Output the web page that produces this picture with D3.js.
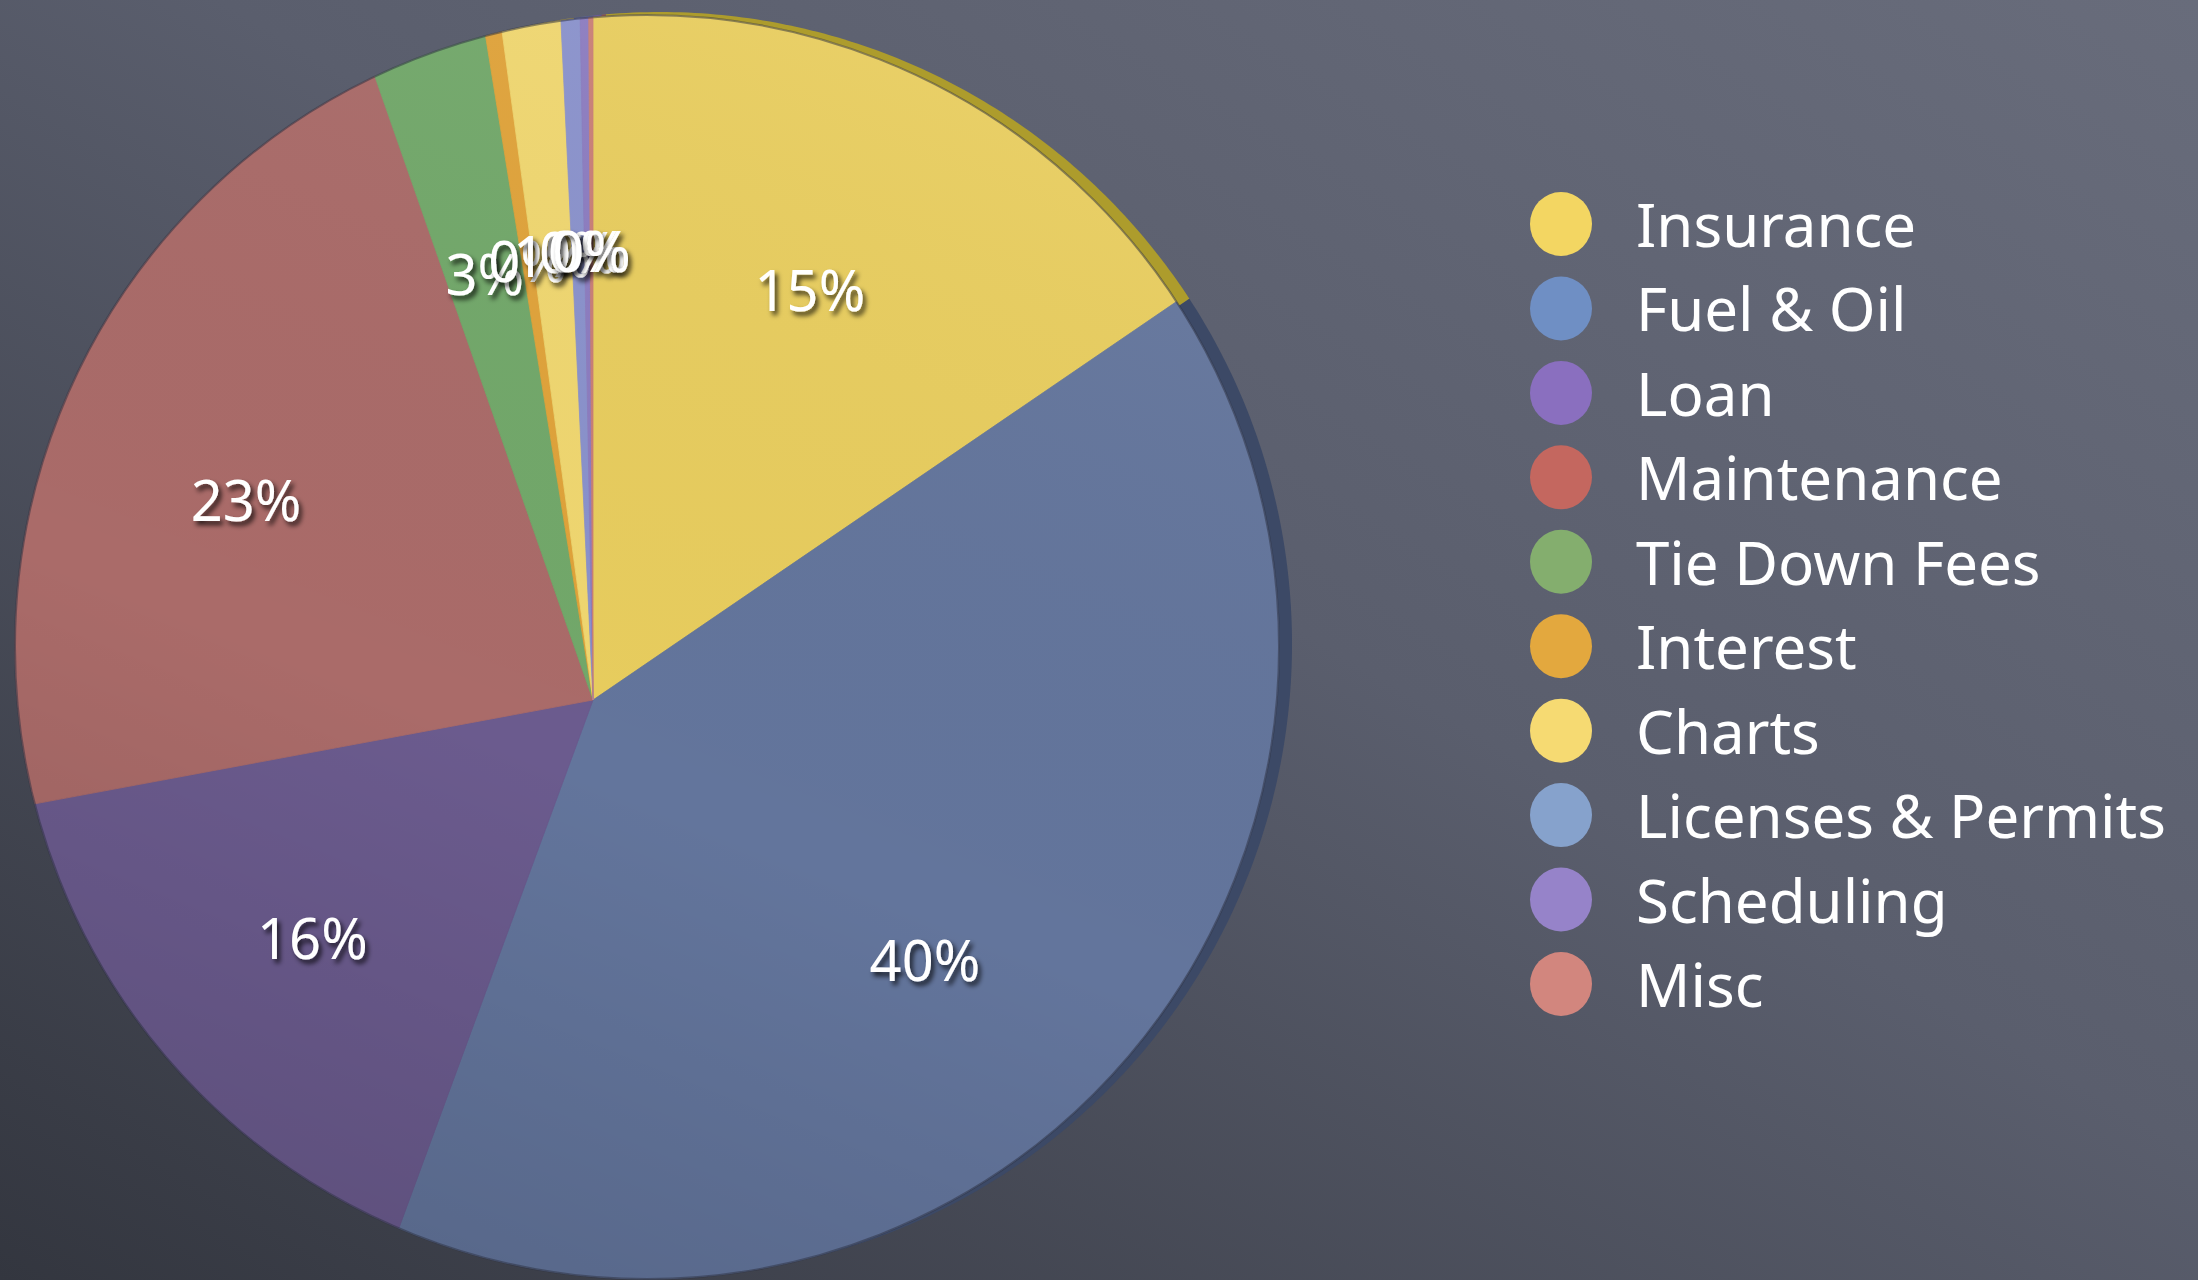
<!DOCTYPE html>
<html>
<head>
<meta charset="utf-8">
<script src="https://cdn.jsdelivr.net/npm/d3@7"></script>
<style>
  body { margin: 0; background: #4a4e5c; }
  svg { display: block; }
</style>
</head>
<body>
<div id="chart"></div>
<script>
// Datos del gráfico
const categories = ["Insurance", "Fuel & Oil", "Loan", "Maintenance", "Tie Down Fees",
                    "Interest", "Charts", "Licenses & Permits", "Scheduling", "Misc"];
const values = [15.45, 40.1, 16.45, 22.55, 2.8, 0.4, 1.4, 0.45, 0.2, 0.1];

// Colores (cara, lateral y leyenda)
const faceColors = ["#e8cd5e", "#63759c", "#6b5b8e", "#aa6b69", "#72a86a",
                    "#e0a33a", "#f0d770", "#8a92cc", "#8c7cc0", "#c97f76"];
const sideColors = ["#ad9c2c", "#3c4966", "#4a3e66", "#7a4644", "#4f7a48",
                    "#a87a28", "#b8a450", "#5c6494", "#6a5a98", "#955a52"];
const legendColors = ["#f3d662", "#6f8fc4", "#8a6fbf", "#c4675f", "#84ae6e",
                      "#e3a83e", "#f6da72", "#86a2cc", "#9683c9", "#d2867e"];

const WIDTH = 2198;
const HEIGHT = 1280;

// Geometría del pastel en perspectiva
const apex = { x: 593, y: 700 };     // punto donde se juntan las porciones
const rim = { x: 647, y: 647, r: 632 };
const labelFrac = 0.66;

const svg = d3.select("#chart")
  .append("svg")
  .attr("width", WIDTH)
  .attr("height", HEIGHT);

const defs = svg.append("defs");

// Fondo de pizarra
const bg = defs.append("linearGradient")
  .attr("id", "bg")
  .attr("x1", "1").attr("y1", "0")
  .attr("x2", "0").attr("y2", "1");
bg.append("stop").attr("offset", "0%").attr("stop-color", "#686c7b");
bg.append("stop").attr("offset", "45%").attr("stop-color", "#5a5e6d");
bg.append("stop").attr("offset", "100%").attr("stop-color", "#33363f");

// Sombreado sobre la cara del pastel
const shade = defs.append("linearGradient")
  .attr("id", "shade")
  .attr("x1", "0.7").attr("y1", "0")
  .attr("x2", "0.3").attr("y2", "1");
shade.append("stop").attr("offset", "0%").attr("stop-color", "#ffffff").attr("stop-opacity", 0.06);
shade.append("stop").attr("offset", "60%").attr("stop-color", "#000000").attr("stop-opacity", 0.0);
shade.append("stop").attr("offset", "100%").attr("stop-color", "#000000").attr("stop-opacity", 0.12);

const shadow = defs.append("filter")
  .attr("id", "txtshadow")
  .attr("x", "-20%").attr("y", "-20%")
  .attr("width", "150%").attr("height", "160%");
shadow.append("feDropShadow")
  .attr("dx", 3).attr("dy", 4)
  .attr("stdDeviation", 2.5)
  .attr("flood-color", "#000")
  .attr("flood-opacity", 0.75);

svg.append("rect")
  .attr("width", WIDTH)
  .attr("height", HEIGHT)
  .attr("fill", "url(#bg)");

// Punto del borde visto desde el vértice en la dirección del ángulo
function edgePoint(a, dx = 0, dy = 0) {
  const ux = Math.sin(a), uy = -Math.cos(a);
  const px = apex.x - rim.x, py = apex.y - rim.y;
  const b = ux * px + uy * py;
  const c = px * px + py * py - rim.r * rim.r;
  const t = -b + Math.sqrt(b * b - c);
  return [apex.x + t * ux + dx, apex.y + t * uy + dy, t];
}

function slicePath(d, dx = 0, dy = 0) {
  const n = Math.max(2, Math.ceil((d.endAngle - d.startAngle) / 0.01));
  const pts = [[apex.x + dx, apex.y + dy]];
  d3.range(n + 1).forEach(i => {
    const a = d.startAngle + (d.endAngle - d.startAngle) * i / n;
    const p = edgePoint(a, dx, dy);
    pts.push([p[0], p[1]]);
  });
  return d3.line()(pts) + "Z";
}

const pie = d3.pie().sort(null).value(d => d)(values);
const total = d3.sum(values);

// Lateral (grosor del disco)
svg.append("g")
  .attr("id", "side")
  .selectAll("path")
  .data(pie)
  .join("path")
  .attr("d", d => slicePath(d, 13, -3))
  .attr("fill", (d, i) => sideColors[i]);

// Cara del pastel
const face = svg.append("g").attr("id", "face");
face.selectAll("path")
  .data(pie)
  .join("path")
  .attr("d", d => slicePath(d))
  .attr("fill", (d, i) => faceColors[i])
  .attr("stroke", (d, i) => faceColors[i])
  .attr("stroke-width", 0.8);

face.append("circle")
  .attr("cx", rim.x)
  .attr("cy", rim.y)
  .attr("r", rim.r)
  .attr("fill", "url(#shade)")
  .attr("stroke", "#2c3040")
  .attr("stroke-opacity", 0.5)
  .attr("stroke-width", 2);

// Etiquetas de porcentaje
svg.append("g")
  .attr("id", "labels")
  .selectAll("text")
  .data(pie)
  .join("text")
  .attr("x", d => {
    const a = (d.startAngle + d.endAngle) / 2;
    const t = edgePoint(a)[2] * labelFrac;
    return apex.x + t * Math.sin(a);
  })
  .attr("y", d => {
    const a = (d.startAngle + d.endAngle) / 2;
    const t = edgePoint(a)[2] * labelFrac;
    return apex.y - t * Math.cos(a);
  })
  .attr("text-anchor", "middle")
  .attr("dominant-baseline", "central")
  .attr("font-family", "'Noto Sans', sans-serif")
  .attr("font-size", 56)
  .attr("fill", "#ffffff")
  .attr("filter", "url(#txtshadow)")
  .text(d => `${Math.round(d.value / total * 100)}%`);

// Leyenda
const legendY = d3.scalePoint()
  .domain(categories)
  .range([224, 984]);

const legend = svg.append("g")
  .attr("id", "legend")
  .selectAll("g")
  .data(categories)
  .join("g")
  .attr("transform", d => `translate(1561, ${legendY(d)})`);

legend.append("ellipse")
  .attr("rx", 31)
  .attr("ry", 32)
  .attr("fill", (d, i) => legendColors[i]);

legend.append("text")
  .attr("x", 75)
  .attr("dominant-baseline", "central")
  .attr("font-family", "'Noto Sans', sans-serif")
  .attr("font-size", 60)
  .attr("fill", "#ffffff")
  .text(d => d);
</script>
</body>
</html>
